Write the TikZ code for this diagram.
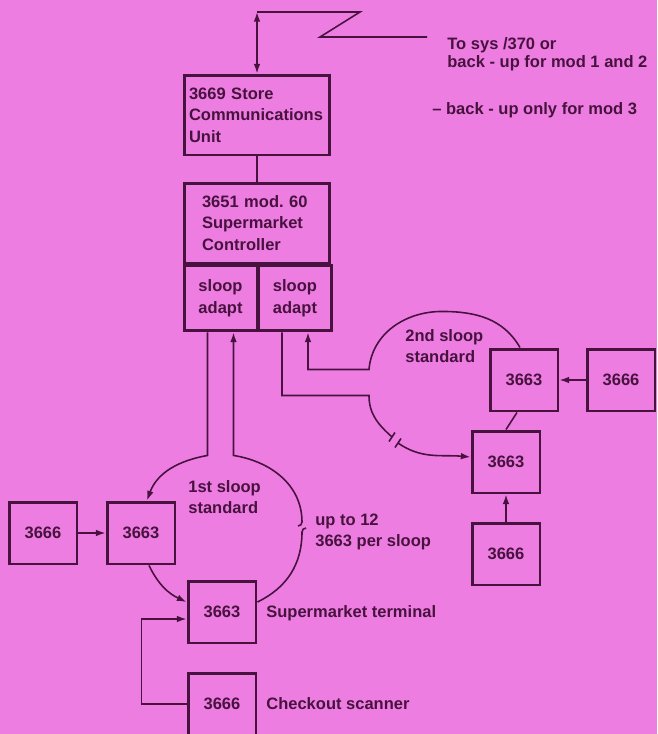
\documentclass[tikz,border=0pt]{standalone}
\usepackage{fontspec}
\setmainfont{Liberation Sans}
\usepackage{tikz}
\usetikzlibrary{calc,arrows.meta}
\usepackage{xcolor}
\definecolor{sheet}{RGB}{238,125,226}
\definecolor{ink}{RGB}{72,18,62}

\tikzset{
  unitbox/.style={draw=ink, line width=1.7pt, minimum width=1.36cm, minimum height=1.24cm, inner sep=0pt},
  wire/.style={draw=ink, line width=0.9pt},
  lbl/.style={inner sep=0pt, align=left},
  >={Latex[length=5.5pt,width=3.8pt]}
}

\begin{document}
\begin{tikzpicture}[x=0.02cm,y=-0.02cm,text=ink,font=\fontsize{9.4}{12.3}\selectfont\bfseries]
\useasboundingbox[fill=sheet] (0,0) rectangle (657,734);
% store unit, controller and its two adapters
\node [unitbox, minimum width=2.92cm, minimum height=1.6cm, text width=2.72cm, align=left] (scu) at (257,115) {3669 Store\\Communications\\Unit};
\node [unitbox, minimum width=2.92cm, minimum height=1.6cm, text width=2.2cm, align=left] (ctl) at (257,223) {3651 mod.\ 60\\Supermarket\\Controller};
\node [unitbox, minimum width=1.46cm, minimum height=1.3cm, anchor=north west, align=center] (sa1) at (ctl.south west) {sloop\\adapt};
\node [unitbox, minimum width=1.46cm, minimum height=1.3cm, anchor=north west, align=center] (sa2) at (ctl.south) {sloop\\adapt};
\draw [wire] (scu) -- (ctl);
% link to the host
\coordinate (link) at (257,12);
\draw [wire,<->] (link) -- (scu);
\draw [wire] (link) -- ++(103,0) -- ++(-40,25) -- ++(107,0);
\node [lbl, anchor=west, font=\fontsize{9.4}{10.2}\selectfont\bfseries] (hostA) at (447,54) {To sys /370 or\\back - up for mod 1 and 2};
\node [lbl, anchor=west] (hostB) at (432,110) {– back - up only for mod 3};
% 2nd sloop
\node [unitbox] (sta) at (524,380) {3663};
\node [unitbox] (scnR) at (621,380) {3666};
\node [unitbox] (stb) at (506,462) {3663};
\node [unitbox] (scnB) at (506,554) {3666};
\draw [wire,->] (scnR) -- (sta);
\draw [wire,->] (scnB) -- (stb);
\draw [wire] ($(sta.south)+(-7,0)$) -- (stb.north);
\draw [wire,<-] ($(sa2.south)+(13,0)$) -- ++(0,37) -- ++(61,0) to [out=85,in=180] ++(73,-58) to [out=0,in=120] ($(sta.north)+(-4,0)$);
\coordinate (brk2) at (395,440);
\draw [wire] ($(sa2.south)+(-13,0)$) -- ++(0,63) -- ++(87,0) to [out=-90,in=138] ($(brk2)+(-3,-3)$) +(-3,4.5) -- +(3,-4.5);
\draw [wire,->] ($(brk2)+(3,3)$) +(-3,4.5) -- +(3,-4.5) +(0,0) to [out=-35,in=175] ($(stb.west)+(0,-5)$);
\node [lbl, anchor=west] (sl2) at (405,346) {2nd sloop\\standard};
% 1st sloop
\node [unitbox] (scnL) at (43,533) {3666};
\node [unitbox] (stL) at (141,533) {3663};
\node [unitbox] (term) at (222,612) {3663};
\node [unitbox] (chk) at (222,704) {3666};
\draw [wire,->] (scnL) -- (stL);
\draw [wire,->] ($(sa1.south)+(-13,0)$) -- ++(0,123) to [out=190,in=70] ($(stL.north)+(6,0)$);
\draw [wire,->] ($(stL.south)+(8,0)$) to [out=-64,in=155] ($(term.west)+(0,-10)$);
\coordinate (brk1) at (302,527);
\draw [wire,<-] ($(sa1.south)+(13,0)$) -- ++(0,123) to [out=-9,in=90] ($(brk1)+(0,-5)$) to [out=-90,in=0] ++(-4,4);
\draw [wire] ($(brk1)+(4,1)$) to [out=180,in=90] ++(-4,4) to [out=-90,in=26] ($(term.east)+(0,-10)$);
\draw [wire,->] (chk.west) -- ++(-45,0) |- ($(term.west)+(0,7)$);
\node [lbl, anchor=west] (sl1) at (188,497) {1st sloop\\standard};
\node [lbl, anchor=west] (upto) at (315,532) {up to 12\\3663 per sloop};
\node [lbl, anchor=west] (tname) at (266,613) {Supermarket terminal};
\node [lbl, anchor=west] (cname) at (266,704) {Checkout scanner};
\end{tikzpicture}
\end{document}
